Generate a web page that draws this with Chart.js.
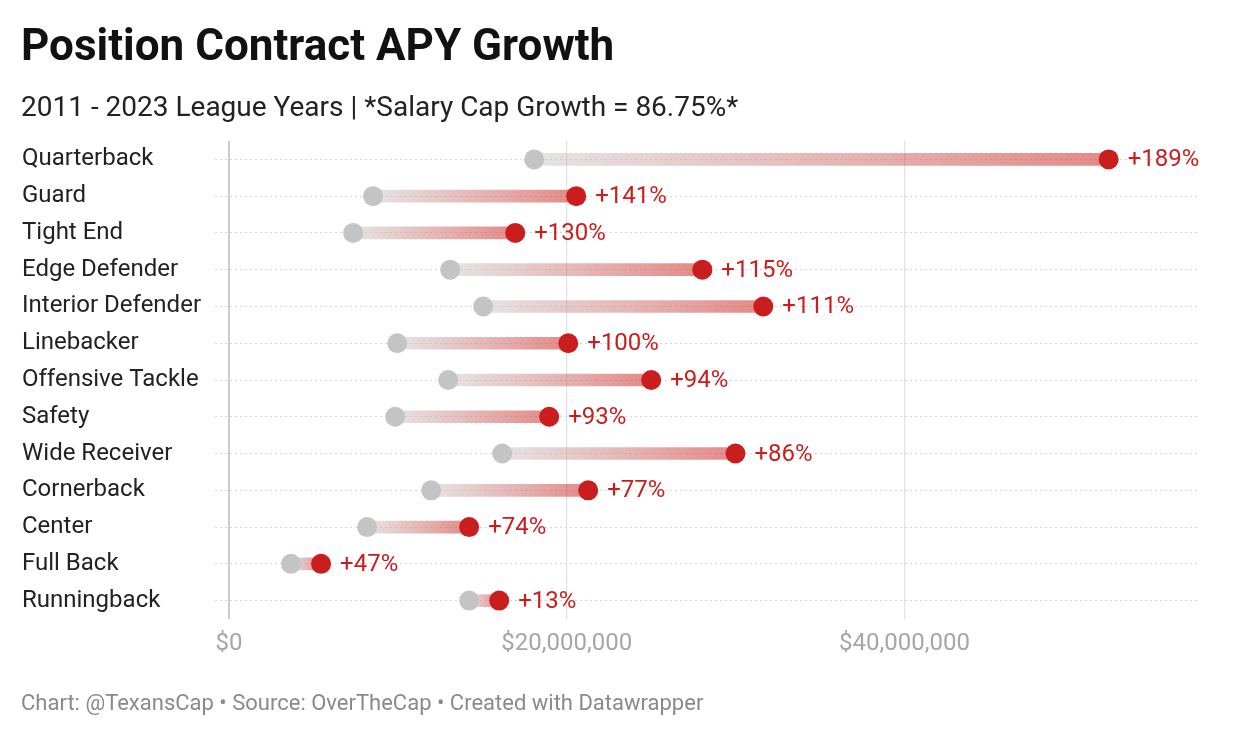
<!DOCTYPE html>
<html>
<head>
<meta charset="utf-8">
<script src="https://cdn.jsdelivr.net/npm/chart.js@4/dist/chart.umd.min.js"></script>
<style>
  html, body { margin: 0; padding: 0; background: #fff; }
  body { width: 1240px; height: 738px; position: relative; overflow: hidden; font-family: Roboto, sans-serif; }
  #title { position: absolute; left: 21px; top: 23px; font-size: 44px; line-height: 44px; font-weight: 700; color: #111; white-space: nowrap; }
  #subtitle { position: absolute; left: 21px; top: 93px; font-size: 28px; line-height: 28px; color: #222; white-space: nowrap; }
  #footer { position: absolute; left: 21px; top: 692px; font-size: 22px; line-height: 22px; color: #8a8a8a; white-space: nowrap; }
  #wrap { position: absolute; left: 0; top: 0; width: 1240px; height: 738px; }
</style>
</head>
<body>
<div id="wrap"><canvas id="canvas"></canvas></div>
<div id="title">Position Contract APY Growth</div>
<div id="subtitle">2011 - 2023 League Years | *Salary Cap Growth = 86.75%*</div>
<div id="footer">Chart: @TexansCap • Source: OverTheCap • Created with Datawrapper</div>
<script>
const positions = ['Quarterback', 'Guard', 'Tight End', 'Edge Defender', 'Interior Defender', 'Linebacker',
  'Offensive Tackle', 'Safety', 'Wide Receiver', 'Cornerback', 'Center', 'Full Back', 'Runningback'];
const apy2011 = [18070000, 8530000, 7350000, 13100000, 15050000, 9960000,
  12980000, 9840000, 16180000, 11970000, 8180000, 3670000, 14220000];
const apy2023 = [52090000, 20560000, 16950000, 28030000, 31640000, 20090000,
  25000000, 18960000, 29990000, 21270000, 14220000, 5450000, 16000000];
const growthLabels = ['+189%', '+141%', '+130%', '+115%', '+111%', '+100%',
  '+94%', '+93%', '+86%', '+77%', '+74%', '+47%', '+13%'];
const xTicks = [0, 20000000, 40000000];

const red = '#c91d1e';
const grey = '#c4c4c4';

// percent labels next to the 2023 dots
const valueLabels = {
  id: 'valueLabels',
  afterDatasetsDraw(chart) {
    const ctx = chart.ctx;
    const meta = chart.getDatasetMeta(2);
    ctx.save();
    ctx.font = '24px Roboto';
    ctx.fillStyle = red;
    ctx.textAlign = 'left';
    ctx.textBaseline = 'middle';
    meta.data.forEach((pt, i) => {
      ctx.fillText(growthLabels[i], pt.x + 19, pt.y + 1);
    });
    ctx.restore();
  }
};

const ctx = document.getElementById('canvas').getContext('2d');
const chart = new Chart(ctx, {
  type: 'bar',
  data: {
    labels: positions,
    datasets: [
      {
        label: 'range',
        data: positions.map((p, i) => [apy2011[i], apy2023[i]]),
        barThickness: 12,
        order: 3,
        backgroundColor: (c) => {
          const chart = c.chart;
          const xs = chart.scales.x;
          if (!chart.chartArea || !xs || c.dataIndex === undefined) return 'rgba(220,140,140,0.6)';
          const x0 = xs.getPixelForValue(apy2011[c.dataIndex]);
          const x1 = xs.getPixelForValue(apy2023[c.dataIndex]);
          if (!isFinite(x0) || !isFinite(x1) || x0 === x1) return 'rgba(220,140,140,0.6)';
          const g = chart.ctx.createLinearGradient(x0, 0, x1, 0);
          g.addColorStop(0, 'rgba(205,200,200,0.5)');
          g.addColorStop(1, 'rgba(205,40,35,0.55)');
          return g;
        }
      },
      {
        type: 'line',
        label: '2011',
        indexAxis: 'y',
        showLine: false,
        order: 2,
        data: positions.map((p, i) => ({ x: apy2011[i], y: p })),
        pointRadius: 10,
        pointHoverRadius: 10,
        pointBorderWidth: 0,
        pointBackgroundColor: grey,
        borderColor: grey
      },
      {
        type: 'line',
        label: '2023',
        indexAxis: 'y',
        showLine: false,
        order: 1,
        data: positions.map((p, i) => ({ x: apy2023[i], y: p })),
        pointRadius: 10,
        pointHoverRadius: 10,
        pointBorderWidth: 0,
        pointBackgroundColor: red,
        borderColor: red
      }
    ]
  },
  options: {
    indexAxis: 'y',
    responsive: true,
    maintainAspectRatio: false,
    animation: false,
    layout: { padding: { left: 22, right: 40, top: 141, bottom: 79 } },
    plugins: {
      legend: { display: false },
      tooltip: { enabled: false }
    },
    scales: {
      x: {
        type: 'linear',
        min: -830000,
        max: 57500000,
        afterBuildTicks: (s) => { s.ticks = xTicks.map(v => ({ value: v })); },
        afterFit: (s) => { s.height = 40; },
        border: { display: false },
        grid: {
          drawTicks: false,
          color: (c) => c.tick && c.tick.value === 0 ? '#cccccc' : '#e2e2e2',
          lineWidth: (c) => c.tick && c.tick.value === 0 ? 2 : 1.2
        },
        ticks: {
          padding: 11,
          color: '#a6a6a6',
          font: { family: 'Roboto', size: 24 },
          callback: (v) => '$' + Number(v).toLocaleString('en-US')
        }
      },
      y: {
        offset: true,
        afterFit: (s) => { s.width = 193; },
        border: { display: false, dash: [2, 3] },
        grid: {
          offset: false,
          drawTicks: false,
          color: '#d6d6d6',
          lineWidth: 1
        },
        ticks: {
          crossAlign: 'far',
          padding: 0,
          color: '#222',
          font: { family: 'Roboto', size: 24 }
        }
      }
    }
  },
  plugins: [valueLabels]
});
</script>
</body>
</html>
